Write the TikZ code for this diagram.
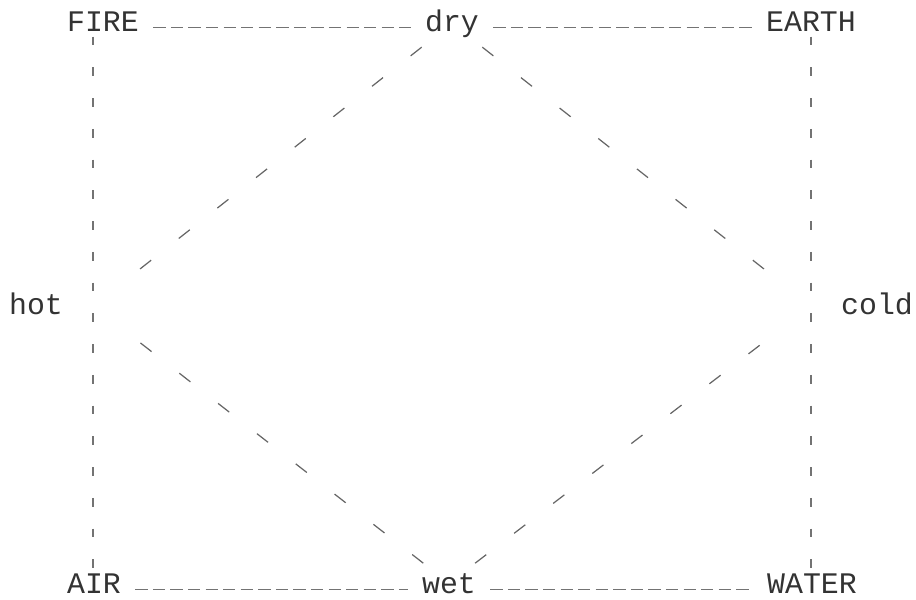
\documentclass[tikz,border=0pt]{standalone}
\usepackage{fontspec}
\setmonofont{Liberation Mono}
\begin{document}
\begin{tikzpicture}[x=0.02cm, y=-0.02cm, font=\ttfamily\fontsize{17}{19}\selectfont,
	every node/.style={text=black!80, inner sep=3pt, anchor=base},
	side/.style={black!55, line width=0.6pt, dash pattern=on 7pt off 3pt, shorten <=5pt, shorten >=5pt},
	upright/.style={black!55, line width=0.6pt, dash pattern=on 5pt off 12.5pt},
	slant/.style={black!60, line width=0.7pt, dash pattern=on 8pt off 20pt, shorten <=4pt}]
	\useasboundingbox (0,0) rectangle (916,599);
	% the four elements and four qualities
	\node (FIRE) at (103,31) {FIRE};
	\node (dry) at (452,31) {dry};
	\node (EARTH) at (811,31) {EARTH};
	\node (hot) at (36,314) {hot};
	\node (cold) at (877,314) {cold};
	\node (AIR) at (94,593) {AIR};
	\node (wet) at (449,593) {wet};
	\node (WATER) at (812,593) {WATER};
	\coordinate (hotv) at (93,306);
	\coordinate (coldv) at (811,306);
	
	% square
	\draw[side] (FIRE.mid east) -- (dry.mid west);
	\draw[side] (dry.mid east) -- (EARTH.mid west);
	\draw[side] (AIR.mid east) -- (wet.mid west);
	\draw[side] (wet.mid east) -- (WATER.mid west);
	\draw[upright] (hotv |- FIRE.south) -- (hotv |- AIR.north);
	\draw[upright] (coldv |- EARTH.south) -- (coldv |- WATER.north);
	
	% diamond
	\draw[slant, shorten >=17pt] (dry) -- (hotv);
	\draw[slant, shorten >=17pt] (dry) -- (coldv);
	\draw[slant, shorten >=20pt] (wet) -- (hotv);
	\draw[slant, shorten >=28pt] (wet) -- (coldv);
\end{tikzpicture}
\end{document}
